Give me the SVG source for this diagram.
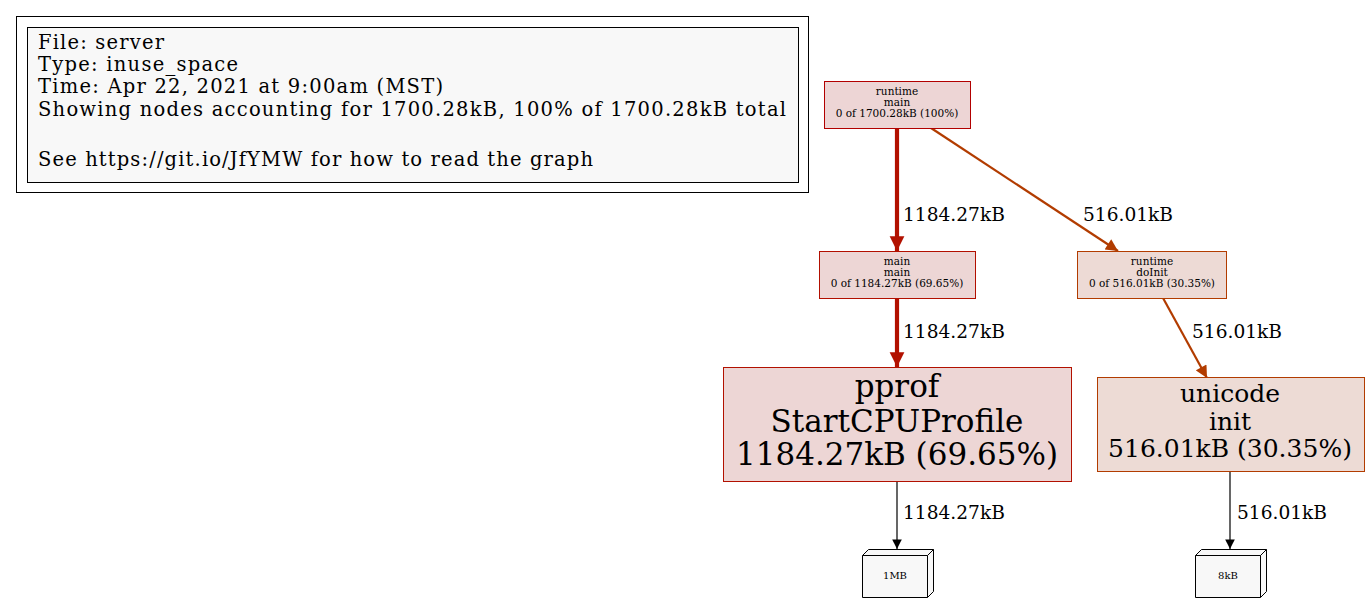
<svg xmlns="http://www.w3.org/2000/svg" width="1370" height="603" viewBox="0 0 1370 603">
<style>
text{font-family:"DejaVu Serif","Liberation Serif",serif;fill:#000}
.leg{font-size:19.5px}
.sm{font-size:10.5px;text-anchor:middle}
.lbl{font-size:18.6px}
.big{font-size:31px;text-anchor:middle}
.mid{font-size:25px;text-anchor:middle}
.tiny{font-size:10px;text-anchor:middle}
.box3{fill:#f8f8f8;stroke:#000;stroke-width:1}
</style>
<defs>
<marker id="ahR" viewBox="0 0 10 10" refX="10" refY="5" markerWidth="3.5" markerHeight="3.8" orient="auto" markerUnits="strokeWidth"><path d="M0,0L10,5L0,10z" fill="#b21100"/></marker>
<marker id="ahO" viewBox="0 0 10 10" refX="10" refY="5" markerWidth="6" markerHeight="5.5" orient="auto" markerUnits="strokeWidth"><path d="M0,0L10,5L0,10z" fill="#b23c00"/></marker>
<marker id="ahK" viewBox="0 0 10 10" refX="10" refY="5" markerWidth="10" markerHeight="8" orient="auto" markerUnits="strokeWidth"><path d="M0,0L10,5L0,10z" fill="#000"/></marker>
</defs>
<g id="legend">
<rect x="16.5" y="16.5" width="792" height="176" fill="#fff" stroke="#000"/>
<rect x="27.5" y="27.5" width="771" height="155" fill="#f8f8f8" stroke="#000"/>
<text class="leg" x="38" y="49" textLength="126" lengthAdjust="spacing">File: server</text>
<text class="leg" x="38" y="71" textLength="200" lengthAdjust="spacing">Type: inuse_space</text>
<text class="leg" x="38" y="93" textLength="405" lengthAdjust="spacing">Time: Apr 22, 2021 at 9:00am (MST)</text>
<text class="leg" x="38" y="116" textLength="748" lengthAdjust="spacing">Showing nodes accounting for 1700.28kB, 100% of 1700.28kB total</text>
<text class="leg" x="38" y="166" textLength="555" lengthAdjust="spacing">See https://git.io/JfYMW for how to read the graph</text>
</g>
<g id="connectors">
<line x1="897" y1="128" x2="897" y2="251" stroke="#b21100" stroke-width="4.2" marker-end="url(#ahR)"/>
<text class="lbl" x="903" y="221">1184.27kB</text>
<line x1="931" y1="128" x2="1118" y2="251" stroke="#b23c00" stroke-width="2.2" marker-end="url(#ahO)"/>
<text class="lbl" x="1083" y="221">516.01kB</text>
<line x1="897" y1="298" x2="897" y2="367" stroke="#b21100" stroke-width="4.2" marker-end="url(#ahR)"/>
<text class="lbl" x="903" y="338">1184.27kB</text>
<line x1="1163" y1="298" x2="1207" y2="378" stroke="#b23c00" stroke-width="2.2" marker-end="url(#ahO)"/>
<text class="lbl" x="1192" y="338">516.01kB</text>
<line x1="897" y1="481" x2="897" y2="549" stroke="#000" stroke-width="1.2" marker-end="url(#ahK)"/>
<text class="lbl" x="903" y="519">1184.27kB</text>
<line x1="1230" y1="471" x2="1230" y2="549" stroke="#000" stroke-width="1.2" marker-end="url(#ahK)"/>
<text class="lbl" x="1237" y="519">516.01kB</text>
</g>
<g id="node-runtime-main">
<rect x="824.5" y="81.5" width="146" height="47" fill="#edd5d5" stroke="#b20000"/>
<text class="sm" x="897" y="95">runtime</text>
<text class="sm" x="897" y="106">main</text>
<text class="sm" x="897" y="117">0 of 1700.28kB (100%)</text>
</g>
<g id="node-main-main">
<rect x="819.5" y="251.5" width="156" height="47" fill="#edd6d5" stroke="#b20f00"/>
<text class="sm" x="897" y="265">main</text>
<text class="sm" x="897" y="276">main</text>
<text class="sm" x="897" y="287">0 of 1184.27kB (69.65%)</text>
</g>
<g id="node-runtime-doInit">
<rect x="1077.5" y="251.5" width="149" height="47" fill="#eddad5" stroke="#b23c00"/>
<text class="sm" x="1152" y="265">runtime</text>
<text class="sm" x="1152" y="276">doInit</text>
<text class="sm" x="1152" y="287">0 of 516.01kB (30.35%)</text>
</g>
<g id="node-pprof">
<rect x="723.5" y="367.5" width="348" height="114" fill="#edd6d5" stroke="#b21100"/>
<text class="big" x="897" y="397">pprof</text>
<text class="big" x="897" y="432">StartCPUProfile</text>
<text class="big" x="897" y="465">1184.27kB (69.65%)</text>
</g>
<g id="node-unicode">
<rect x="1097.5" y="377.5" width="267" height="94" fill="#eddbd5" stroke="#b23c00"/>
<text class="mid" x="1230" y="402">unicode</text>
<text class="mid" x="1230" y="430">init</text>
<text class="mid" x="1230" y="457">516.01kB (30.35%)</text>
</g>
<g id="node-1MB">
<path class="box3" d="M862.5,555.5L868.5,549.5L933.5,549.5L933.5,591.5L927.5,597.5L862.5,597.5Z"/>
<path d="M862.5,555.5H927.5L933.5,549.5M927.5,555.5V597.5" fill="none" stroke="#000"/>
<text class="tiny" x="895" y="579">1MB</text>
</g>
<g id="node-8kB">
<path class="box3" d="M1195.5,555.5L1201.5,549.5L1266.5,549.5L1266.5,591.5L1260.5,597.5L1195.5,597.5Z"/>
<path d="M1195.5,555.5H1260.5L1266.5,549.5M1260.5,555.5V597.5" fill="none" stroke="#000"/>
<text class="tiny" x="1228" y="579">8kB</text>
</g>
</svg>
